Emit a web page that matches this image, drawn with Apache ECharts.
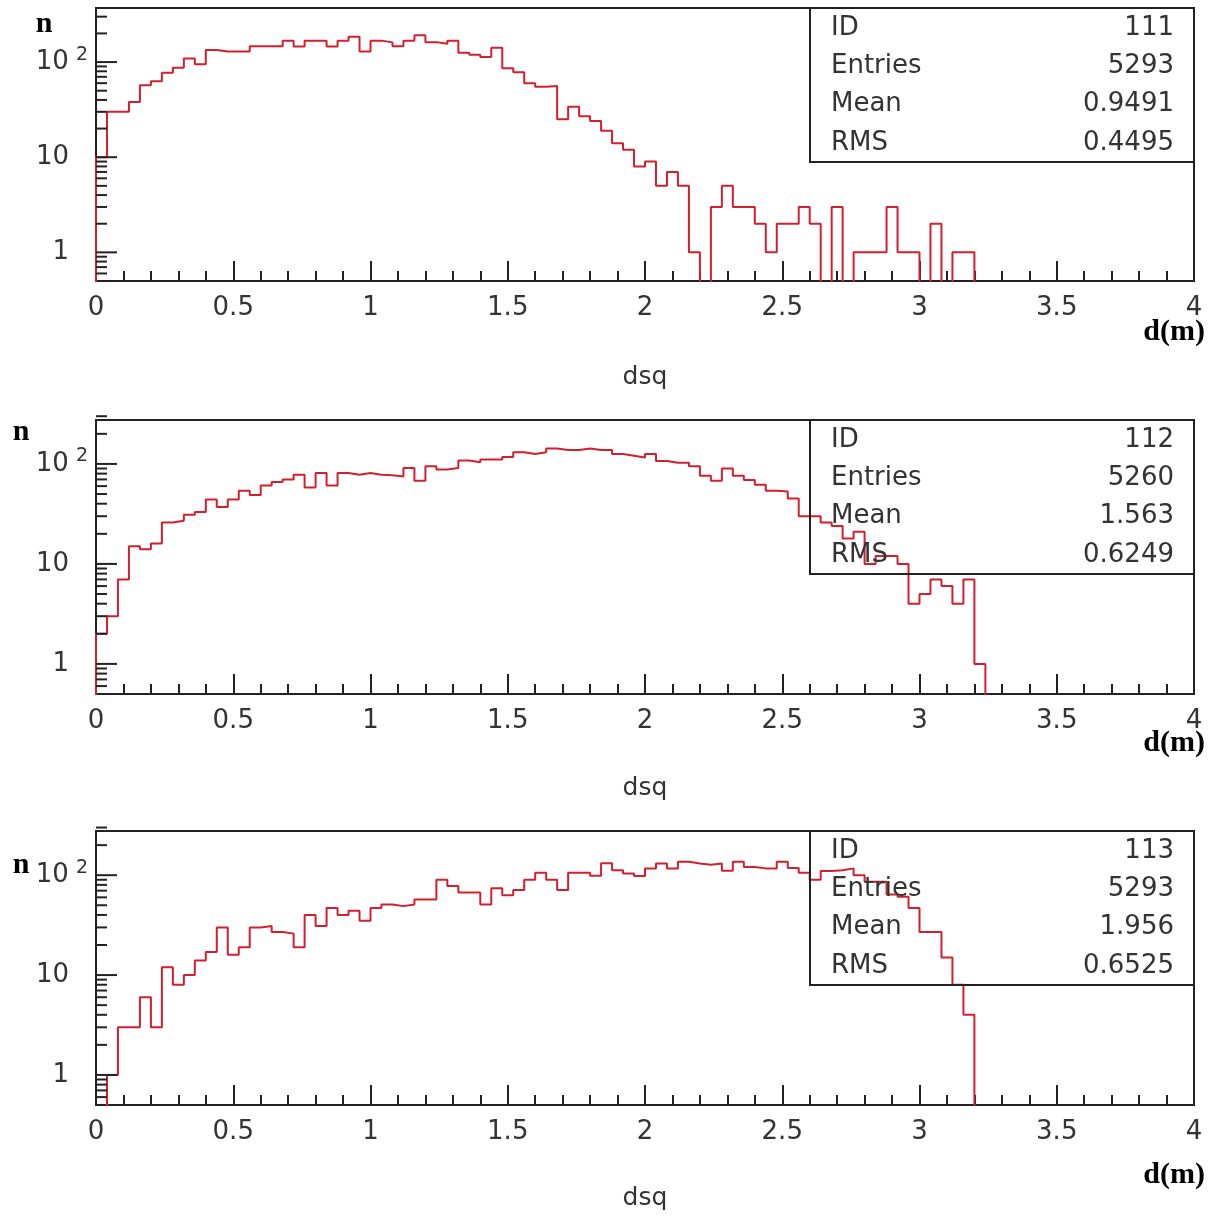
<!DOCTYPE html>
<html>
<head>
<meta charset="utf-8">
<script src="https://cdn.jsdelivr.net/npm/echarts@6/dist/echarts.min.js"></script>
<style>
html,body{margin:0;padding:0;background:#ffffff;}
#chart{width:1215px;height:1218px;}
</style>
</head>
<body>
<div id="chart"></div>
<script>
// ---------------- data ----------------
const X_MIN = 0;
const X_MAX = 4;
const BIN_WIDTH = 0.04;           // 100 bins over [0,4]
const xTickLabels = ['0', '0.5', '1', '1.5', '2', '2.5', '3', '3.5', '4'];

// histogram contents (counts per bin of 0.04)
const h111 = [
  10, 30, 30, 38, 57, 63, 77, 87, 109, 95,
  134, 129, 129, 129, 147, 147, 147, 168, 146, 168,
  168, 146, 168, 184, 129, 168, 161, 147, 168, 191,
  162, 156, 168, 125, 119, 113, 141, 86, 78, 60,
  55, 56, 25, 34, 27, 24, 19, 14, 12, 8,
  9, 5, 7, 5, 1, 0, 3, 5, 3, 3,
  2, 1, 2, 2, 3, 2, 0, 3, 0, 1,
  1, 1, 3, 1, 1, 0, 2, 0, 1, 1,
  0, 0, 0, 0, 0, 0, 0, 0, 0, 0,
  0, 0, 0, 0, 0, 0, 0, 0, 0, 0
];
const h112 = [
  2, 3, 7, 15, 14, 16, 26, 27, 31, 33,
  44, 37, 44, 54, 49, 61, 66, 70, 78, 58,
  81, 61, 81, 78, 81, 78, 77, 75, 91, 68,
  95, 88, 91, 108, 104, 111, 111, 117, 131, 126,
  131, 143, 138, 138, 143, 138, 138, 126, 121, 116,
  126, 107, 103, 103, 95, 76, 68, 90, 76, 69,
  62, 54, 53, 45, 30, 30, 26, 24, 18, 21,
  10, 12, 12, 10, 4, 5, 7, 6, 4, 7,
  1, 0, 0, 0, 0, 0, 0, 0, 0, 0,
  0, 0, 0, 0, 0, 0, 0, 0, 0, 0
];
const h113 = [
  0, 1, 3, 3, 6, 3, 12, 8, 10, 14,
  17, 30, 16, 19, 30, 31, 27, 26, 19, 40,
  31, 47, 40, 44, 35, 47, 51, 49, 51, 57,
  57, 90, 78, 67, 67, 51, 74, 63, 71, 90,
  106, 90, 71, 106, 106, 99, 132, 112, 104, 98,
  117, 131, 117, 136, 131, 127, 131, 111, 136, 121,
  117, 117, 136, 118, 106, 90, 110, 112, 117, 100,
  86, 86, 64, 61, 47, 27, 27, 15, 8, 4,
  0, 0, 0, 0, 0, 0, 0, 0, 0, 0,
  0, 0, 0, 0, 0, 0, 0, 0, 0, 0
];

const histIds   = ['111', '112', '113'];
const histEntries = ['5293', '5260', '5293'];
const histMeans = ['0.9491', '1.563', '1.956'];
const histRms   = ['0.4495', '0.6249', '0.6525'];
const statLabels = ['ID', 'Entries', 'Mean', 'RMS'];

const yMin = 0.5;
const yMaxes = [370, 275, 277];
const yTickValues = [1, 10, 100];
const yTickLabels = ['1', '10', '10^2'];
const yMinorTickValues = [0.6, 0.7, 0.8, 0.9, 2, 3, 4, 5, 6, 7, 8, 9,
                          20, 30, 40, 50, 60, 70, 80, 90, 200, 300];
const xTitle = 'dsq';
const xUnit = 'd(m)';
const yUnit = 'n';

// ---------------- layout / style ----------------
const grids = [
  {left: 96, top: 8,   width: 1098, height: 273},
  {left: 96, top: 420, width: 1098, height: 274},
  {left: 96, top: 831, width: 1098, height: 274}
];
const nameGaps = [84, 82, 81];
const unitY = [332, 743, 1175];
const nPos = [[44, 24], [21, 432], [21, 865]];
const AXIS_COLOR = '#222';
const TEXT_COLOR = '#333';
const LINE_RED = '#d21f2d';
const SANS = 'DejaVu Sans';
const SERIF = 'Liberation Serif';
const FLOOR = 0.3; // empty bins drawn down to (below) the frame bottom, clipped

const hists = [h111, h112, h113];

function stepData(vals) {
  const pts = [[X_MIN, FLOOR]];
  vals.forEach((v, i) => pts.push([+(X_MIN + i * BIN_WIDTH).toFixed(2), v > 0 ? v : FLOOR]));
  pts.push([X_MAX, FLOOR]);
  return pts;
}

function yLabelFormatter(v) {
  for (let k = 0; k < yTickValues.length; k++) {
    if (Math.abs(v - yTickValues[k]) < 1e-6 * yTickValues[k]) {
      const t = yTickLabels[k];
      if (t.indexOf('^') >= 0) {
        const parts = t.split('^');
        return '{a|' + parts[0] + '}{s|' + parts[1] + '}';
      }
      return '{a|' + t + '}{p|\u00a0}';
    }
  }
  return '';
}

function tickSeries(gi, values, len) {
  return {
    type: 'custom',
    xAxisIndex: gi, yAxisIndex: gi,
    data: values.map(v => [X_MIN, v]),
    clip: false, silent: true, z: 6, animation: false,
    renderItem: function (params, api) {
      const p = api.coord([api.value(0), api.value(1)]);
      return {
        type: 'line',
        shape: {x1: p[0], y1: p[1], x2: p[0] + len, y2: p[1]},
        style: {stroke: AXIS_COLOR, lineWidth: 2}
      };
    }
  };
}

const xAxes = [], yAxes = [], series = [], graphics = [];

grids.forEach((g, i) => {
  xAxes.push({
    gridIndex: i, type: 'value', min: X_MIN, max: X_MAX, interval: 0.5,
    axisLine: {show: true, onZero: false, lineStyle: {color: AXIS_COLOR, width: 2}},
    axisTick: {show: true, inside: true, length: 20, lineStyle: {color: AXIS_COLOR, width: 2}},
    minorTick: {show: true, splitNumber: 5, length: 10, lineStyle: {color: AXIS_COLOR, width: 2}},
    splitLine: {show: false},
    axisLabel: {
      margin: 14, fontSize: 26, color: TEXT_COLOR, fontFamily: SANS,
      formatter: function (v) {
        const idx = Math.round((v - X_MIN) / 0.5);
        return xTickLabels[idx] !== undefined ? xTickLabels[idx] : '';
      }
    },
    name: xTitle, nameLocation: 'middle', nameGap: nameGaps[i],
    nameTextStyle: {fontSize: 25, color: TEXT_COLOR, fontFamily: SANS}
  });
  yAxes.push({
    gridIndex: i, type: 'log', logBase: 10, min: yMin, max: yMaxes[i],
    axisLine: {show: true, lineStyle: {color: AXIS_COLOR, width: 2}},
    axisTick: {show: false},
    minorTick: {show: false},
    splitLine: {show: false},
    axisLabel: {
      margin: 8, color: TEXT_COLOR, fontFamily: SANS,
      formatter: yLabelFormatter,
      rich: {
        a: {fontSize: 26, fontFamily: SANS, color: TEXT_COLOR, lineHeight: 34},
        s: {fontSize: 19, fontFamily: SANS, color: TEXT_COLOR, lineHeight: 14,
            verticalAlign: 'top', padding: [0, 0, 0, 7]},
        p: {fontSize: 19, width: 19, lineHeight: 14}
      }
    }
  });
  series.push({
    type: 'line', xAxisIndex: i, yAxisIndex: i,
    data: stepData(hists[i]), step: 'end',
    showSymbol: false, symbol: 'none', clip: true, animation: false,
    lineStyle: {color: LINE_RED, width: 2}, z: 3
  });
  series.push(tickSeries(i, yTickValues, 21));
  series.push(tickSeries(i, yMinorTickValues, 11));

  // statistics box
  const bx = 810, bw = g.left + g.width - bx, bh = 154;
  graphics.push({
    type: 'rect', z: 10,
    shape: {x: bx, y: g.top, width: bw, height: bh},
    style: {fill: 'none', stroke: AXIS_COLOR, lineWidth: 2}
  });
  const vals = [histIds[i], histEntries[i], histMeans[i], histRms[i]];
  statLabels.forEach((lab, k) => {
    const cy = g.top + 20 + k * 38.3;
    graphics.push({
      type: 'text', z: 11, x: 831, y: cy,
      style: {text: lab, fontSize: 26, fontFamily: SANS, fill: TEXT_COLOR,
              textAlign: 'left', textVerticalAlign: 'middle'}
    });
    graphics.push({
      type: 'text', z: 11, x: 1174, y: cy,
      style: {text: vals[k], fontSize: 26, fontFamily: SANS, fill: TEXT_COLOR,
              textAlign: 'right', textVerticalAlign: 'middle'}
    });
  });
  // unit labels
  graphics.push({
    type: 'text', z: 11, x: 1205, y: unitY[i],
    style: {text: xUnit, fontSize: 30, fontWeight: 'bold', fontFamily: SERIF, fill: '#000',
            textAlign: 'right', textVerticalAlign: 'middle'}
  });
  graphics.push({
    type: 'text', z: 11, x: nPos[i][0], y: nPos[i][1],
    style: {text: yUnit, fontSize: 30, fontWeight: 'bold', fontFamily: SERIF, fill: '#000',
            textAlign: 'center', textVerticalAlign: 'middle'}
  });
});

const chart = echarts.init(document.getElementById('chart'), null, {renderer: 'canvas'});
chart.setOption({
  animation: false,
  backgroundColor: '#ffffff',
  grid: grids.map(g => Object.assign({show: true, borderColor: AXIS_COLOR, borderWidth: 2,
                                      backgroundColor: 'transparent', containLabel: false}, g)),
  xAxis: xAxes,
  yAxis: yAxes,
  series: series,
  graphic: graphics
});
</script>
</body>
</html>
